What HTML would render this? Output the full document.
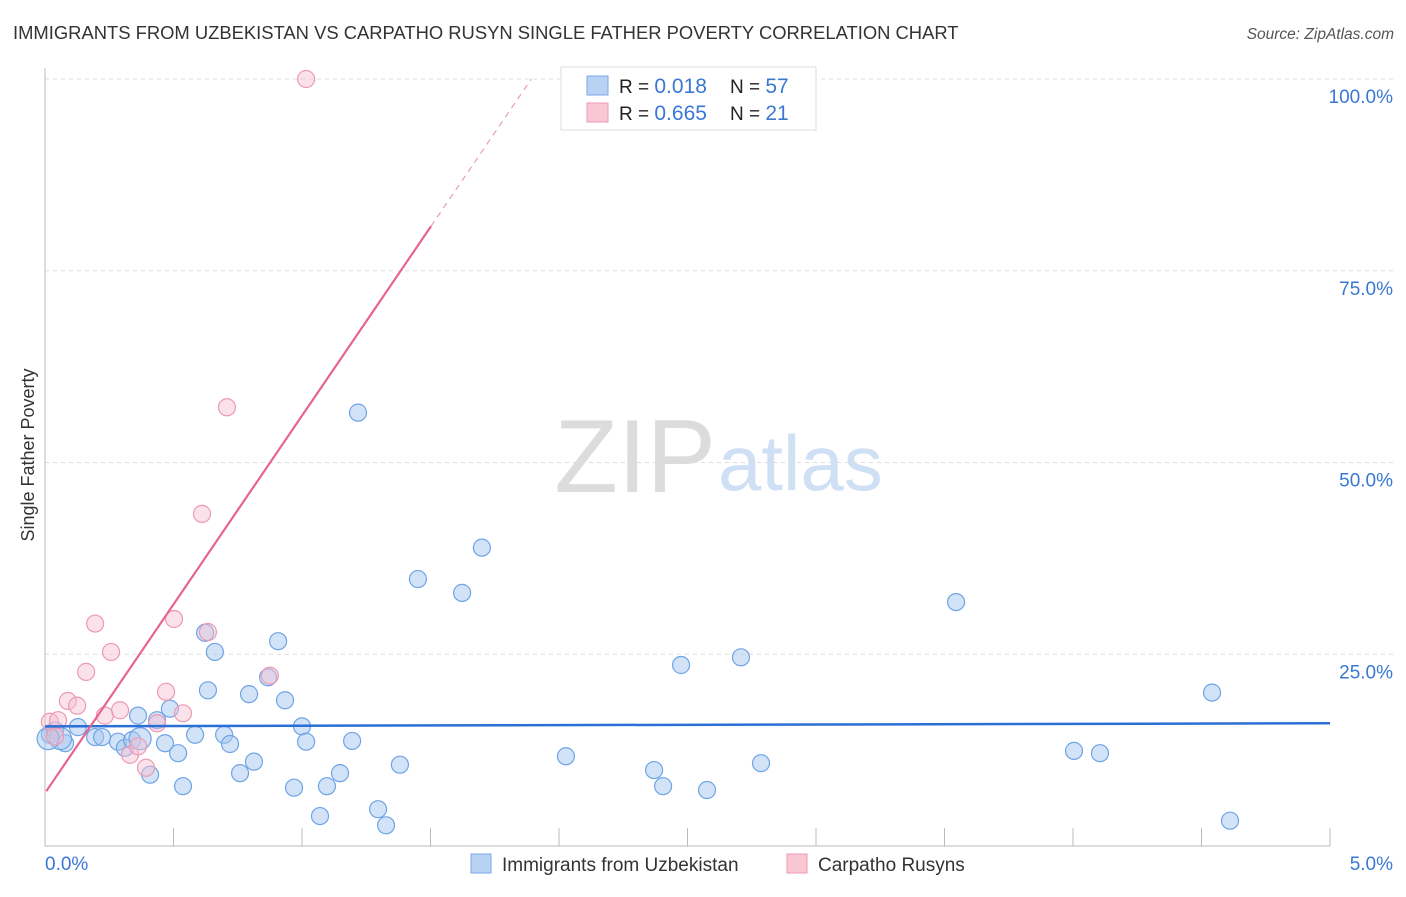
<!DOCTYPE html>
<html><head><meta charset="utf-8"><style>
body{margin:0;background:#fff;font-family:"Liberation Sans",sans-serif;}
svg text{font-family:"Liberation Sans",sans-serif;}
</style></head><body>
<svg id="chart" width="1406" height="892" xmlns="http://www.w3.org/2000/svg">
<text x="13" y="39" font-size="18.4" fill="#333">IMMIGRANTS FROM UZBEKISTAN VS CARPATHO RUSYN SINGLE FATHER POVERTY CORRELATION CHART</text>
<text x="1394" y="39" font-size="15.5" fill="#555" font-style="italic" text-anchor="end">Source: ZipAtlas.com</text>
<text x="716" y="492" font-size="104" fill="#dcdcdc" text-anchor="end" font-family="Liberation Serif">ZIP</text>
<text x="718" y="490" font-size="78" fill="#cfe0f4">atlas</text>
<g id="grid"></g>
<g id="pts"></g>
<g id="lines"></g>
<text transform="translate(34,455) rotate(-90)" font-size="18" fill="#333" text-anchor="middle">Single Father Poverty</text>
<g>
<rect x="561" y="67" width="255" height="63" fill="#fff" stroke="#ddd"/>
<rect x="587" y="76" width="21" height="19" fill="#b8d2f4" stroke="#7aaae6"/>
<rect x="587" y="103" width="21" height="19" fill="#f9c6d4" stroke="#ee9ab3"/>
<text x="619" y="93" font-size="19" fill="#222">R = <tspan fill="#3a78d4" font-size="21">0.018</tspan></text>
<text x="730" y="93" font-size="19" fill="#222">N = <tspan fill="#3a78d4" font-size="21">57</tspan></text>
<text x="619" y="120" font-size="19" fill="#222">R = <tspan fill="#3a78d4" font-size="21">0.665</tspan></text>
<text x="730" y="120" font-size="19" fill="#222">N = <tspan fill="#3a78d4" font-size="21"> 21</tspan></text>
</g>
<g>
<rect x="471" y="854" width="20" height="19" fill="#b8d2f4" stroke="#7aaae6"/>
<text x="502" y="871" font-size="19" fill="#333">Immigrants from Uzbekistan</text>
<rect x="787" y="854" width="20" height="19" fill="#f9c6d4" stroke="#ee9ab3"/>
<text x="818" y="871" font-size="19" fill="#333">Carpatho Rusyns</text>
</g>
</svg>
<script>
const blueX=[0.019,0.039,0.078,0.128,0.195,0.222,0.284,0.311,0.339,0.362,0.409,0.436,0.467,0.486,0.518,0.537,0.584,0.623,0.634,0.661,0.697,0.720,0.759,0.794,0.813,0.868,0.907,0.934,0.969,1.000,1.016,1.070,1.097,1.148,1.195,1.218,1.296,1.327,1.381,1.451,1.623,1.700,2.027,2.370,2.405,2.475,2.576,2.708,2.786,3.545,4.004,4.105,4.541,4.611,0.06,0.012,0.37];
const blueY=[14.5,15.1,13.4,15.5,14.2,14.2,13.6,12.8,13.8,17.0,9.3,16.4,13.4,17.9,12.1,7.8,14.5,27.8,20.3,25.3,14.5,13.3,9.5,19.8,11.0,22.0,26.7,19.0,7.6,15.6,13.6,3.9,7.8,9.5,13.7,56.5,4.8,2.7,10.6,34.8,33.0,38.9,11.7,9.9,7.8,23.6,7.3,24.6,10.8,31.8,12.4,12.1,20.0,3.3,14.0,14.0,14.0];
const pinkX=[0.019,0.051,0.039,0.089,0.125,0.160,0.195,0.257,0.233,0.292,0.331,0.362,0.393,0.436,0.471,0.537,0.502,0.611,0.634,0.708,0.875,1.016];
const pinkY=[16.2,16.4,14.3,18.9,18.3,22.7,29.0,25.3,17.0,17.7,11.9,13.0,10.2,16.0,20.1,17.3,29.6,43.3,27.9,57.2,22.2,100.0];
const blueTrend=[15.6,0.08];
const pinkTrend=[6.9,49.2];
const yTicks=[25,50,75,100];
const xTickLabels=["0.0%","5.0%"];
const X0=45,X1=1330,Y0=846,YT=79;
const sx=v=>X0+(X1-X0)*v/5;
const sy=v=>Y0-(Y0-YT)*v/100;
const NS="http://www.w3.org/2000/svg";
function mk(t,a,p){const e=document.createElementNS(NS,t);for(const k in a)e.setAttribute(k,a[k]);p.appendChild(e);return e;}
const grid=document.getElementById('grid');
yTicks.forEach(v=>{
 const l=mk('line',{x1:X0,x2:1394,y1:sy(v),y2:sy(v),stroke:'#ddd','stroke-dasharray':'4,4'},grid);
 
 
 const t=mk('text',{x:1393,y:sy(v)+24,'font-size':19,fill:'#3a78d4','text-anchor':'end'},grid);
 t.textContent=v.toFixed(1)+'%';
 
 
});
const ax=mk('line',{x1:X0,x2:X0,y1:68,y2:Y0,stroke:'#bbb'},grid);


const bx=mk('line',{x1:X0,x2:X1,y1:Y0,y2:Y0,stroke:'#bbb'},grid);


for(let i=1;i<=10;i++){
 const t=mk('line',{x1:sx(i*0.5),x2:sx(i*0.5),y1:828,y2:Y0,stroke:'#bbb'},grid);
 
 
}
xTickLabels.forEach((s,i)=>{
 const t=mk('text',{x:i?1393:45,y:870,'font-size':19,fill:'#3a78d4','text-anchor':i?'end':'start'},grid);
 t.textContent=s;
 
 
});
const pts=document.getElementById('pts');
blueX.forEach((x,i)=>{
 const c=mk('circle',{cx:sx(x),cy:sy(blueY[i]),r:i>=54?11:8.5,fill:'rgba(168,200,240,0.5)',stroke:'#6ea4e6','stroke-width':1.2},pts);
 
 
});
pinkX.forEach((x,i)=>{
 const c=mk('circle',{cx:sx(x),cy:sy(pinkY[i]),r:8.5,fill:'rgba(247,190,208,0.45)',stroke:'#ec9ab4','stroke-width':1.2},pts);
 
 
});
const lines=document.getElementById('lines');
const bl=mk('line',{x1:sx(0),y1:sy(blueTrend[0]),x2:sx(5),y2:sy(blueTrend[0]+blueTrend[1]*5),stroke:'#2a6fd6','stroke-width':2.5},lines);


const xs=1.502, xe=(100-pinkTrend[0])/pinkTrend[1];
const pl=mk('line',{x1:sx(0.005),y1:sy(pinkTrend[0]+pinkTrend[1]*0.005),x2:sx(xs),y2:sy(pinkTrend[0]+pinkTrend[1]*xs),stroke:'#e8648e','stroke-width':2.2},lines);


const pd=mk('line',{x1:sx(xs),y1:sy(pinkTrend[0]+pinkTrend[1]*xs),x2:sx(xe),y2:sy(100),stroke:'#e8a0b5','stroke-width':1.2,'stroke-dasharray':'6,5'},lines);


</script>
</body></html>
